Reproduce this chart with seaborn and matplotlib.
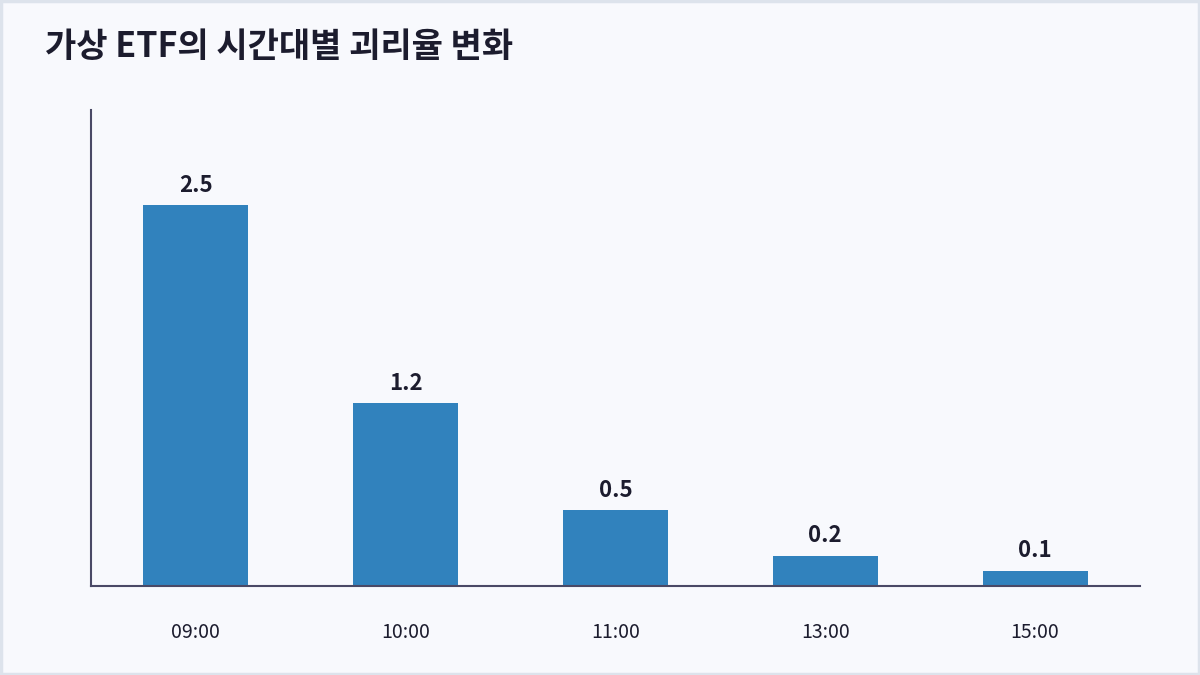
import matplotlib
matplotlib.use("Agg")
import matplotlib.pyplot as plt
import seaborn as sns
import pandas as pd
from matplotlib.patches import Rectangle

# ── Data ──────────────────────────────────────────────
times = ["09:00", "10:00", "11:00", "13:00", "15:00"]
gap_rates = [2.5, 1.2, 0.5, 0.2, 0.1]

BG = "#F8F9FD"
BAR = "#3182BD"
AXIS = "#4A4966"
TEXT = "#1C1C2E"

sns.set_theme(style="white")
plt.rcParams["font.family"] = ["Noto Sans CJK KR", "DejaVu Sans"]

df = pd.DataFrame({"time": times, "rate": gap_rates})

fig = plt.figure(figsize=(12, 6.75), dpi=100, facecolor=BG)
ax = fig.add_axes([91 / 1200, 1 - 586 / 675, 1049 / 1200, 476 / 675])
ax.set_facecolor(BG)

sns.barplot(data=df, x="time", y="rate", color=BAR, width=0.5,
            saturation=1, linewidth=0, ax=ax)

ax.set_xlim(-0.5, len(times) - 0.5)
ax.set_ylim(0, 3.125)

# value labels above bars
for i, v in enumerate(gap_rates):
    ax.annotate(f"{v}", (i, v), xytext=(0, 6), textcoords="offset points",
                ha="center", va="bottom", fontsize=16, fontweight="bold",
                color=TEXT)

for s in ["top", "right"]:
    ax.spines[s].set_visible(False)
for s in ["left", "bottom"]:
    ax.spines[s].set_color(AXIS)
    ax.spines[s].set_linewidth(1.5)

ax.set_yticks([])
ax.set_xlabel("")
ax.set_ylabel("")
ax.tick_params(axis="x", length=0, pad=26, labelsize=14, labelcolor=TEXT)

fig.text(45 / 1200, 1 - 46 / 675, "가상 ETF의 시간대별 괴리율 변화",
         fontsize=24.5, fontweight="bold", color=TEXT, ha="left", va="center")

fig.patches.append(Rectangle((0.001, 0.001), 0.998, 0.998,
                             transform=fig.transFigure, fill=False,
                             edgecolor="#DDE3EC", linewidth=2.5))

fig.savefig("out.png", dpi=100, facecolor=BG)
